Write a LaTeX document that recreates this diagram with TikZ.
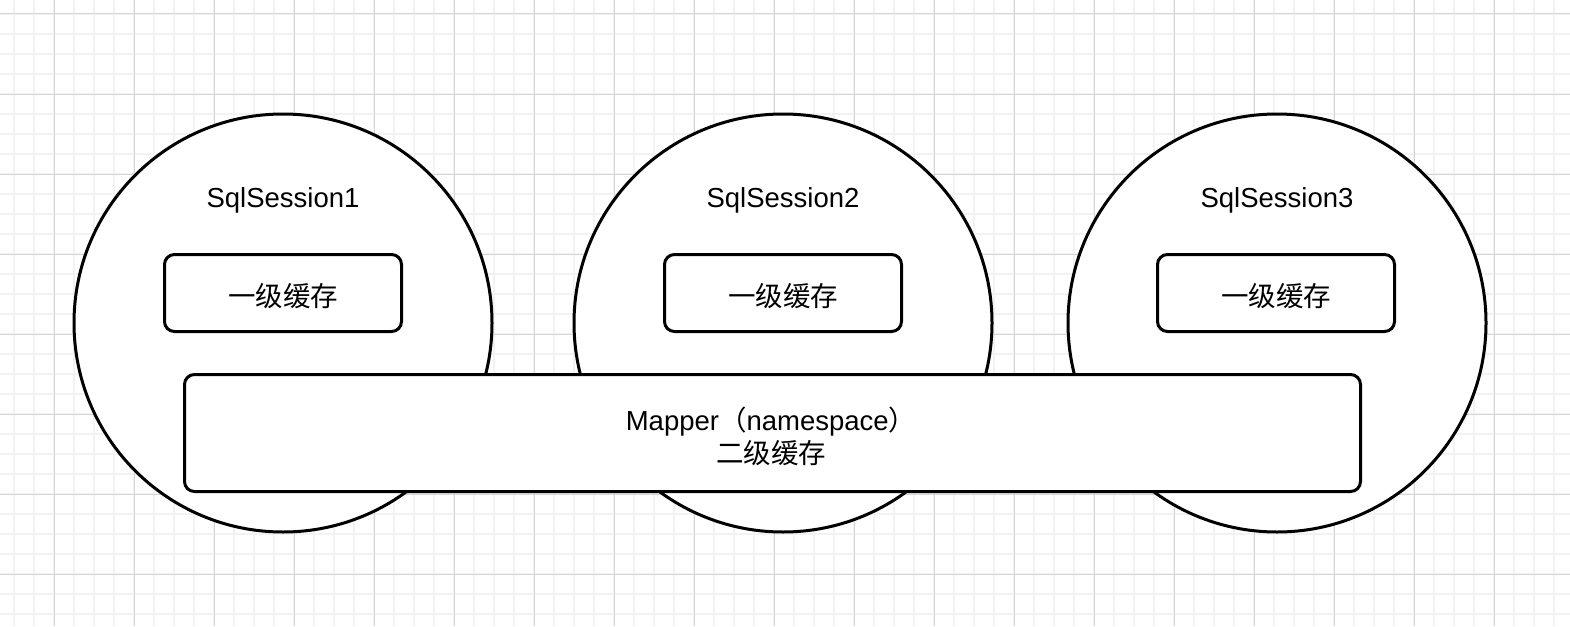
\documentclass[tikz,border=0pt]{standalone}
\usepackage{fontspec}
\setmainfont{Liberation Sans}
\newfontfamily\cjk{Noto Sans CJK SC}
\usetikzlibrary{positioning}

\definecolor{gridminor}{HTML}{F2F2F2}
\definecolor{gridmajor}{HTML}{D6D6D6}

\tikzset{
    session/.style={circle, draw, fill=white, line width=3pt,
        minimum size=418pt, inner sep=0pt},
    cachebox/.style={rectangle, draw, fill=white, line width=3pt,
        rounded corners=10pt, inner sep=0pt},
    title/.style={font=\fontsize{27.5}{33}\selectfont, inner sep=0pt}
}

\begin{document}
\begin{tikzpicture}[x=1pt,y=-1pt]

\useasboundingbox (0,0) rectangle (1570,626);
\fill[white] (0,0) rectangle (1570,626);

% Grid
\foreach \x in {14,34,...,1570}{
    \draw[gridminor,line width=2pt] (\x,0) -- (\x,626);
}
\foreach \y in {14,34,...,626}{
    \draw[gridminor,line width=2pt] (0,\y) -- (1570,\y);
}
\foreach \x in {54,134,...,1570}{
    \draw[gridmajor,line width=1pt] (\x,0) -- (\x,626);
}
\foreach \y in {14,94,...,626}{
    \draw[gridmajor,line width=1pt] (0,\y) -- (1570,\y);
}

% Sessions
\node[session] (s1) at (283,323) {};
\node[session] (s2) at (783,323) {};
\node[session] (s3) at (1277,323) {};

\node[title, anchor=base] (s1name) at (283,207) {SqlSession1};
\node[title, anchor=base] (s2name) at (783,207) {SqlSession2};
\node[title, anchor=base] (s3name) at (1277,207) {SqlSession3};

% First-level cache
\tikzset{level1/.style={cachebox, minimum width=237pt, minimum height=77pt,
    font=\fontsize{27.5}{33}\cjk, text height=27pt, text depth=0pt}}
\node[level1] (c1) at (283,293) {一级缓存};
\node[level1] (c2) at (783,293) {一级缓存};
\node[level1] (c3) at (1276,293) {一级缓存};

% Second-level cache
\node[cachebox, minimum width=1176pt, minimum height=117pt] (mapper) at (772.5,433) {};
\node[title, align=center] (mappertext) at (771,436)
    {Mapper{\cjk （}namespace{\cjk ）}\\{\cjk 二级缓存}};

\end{tikzpicture}
\end{document}
